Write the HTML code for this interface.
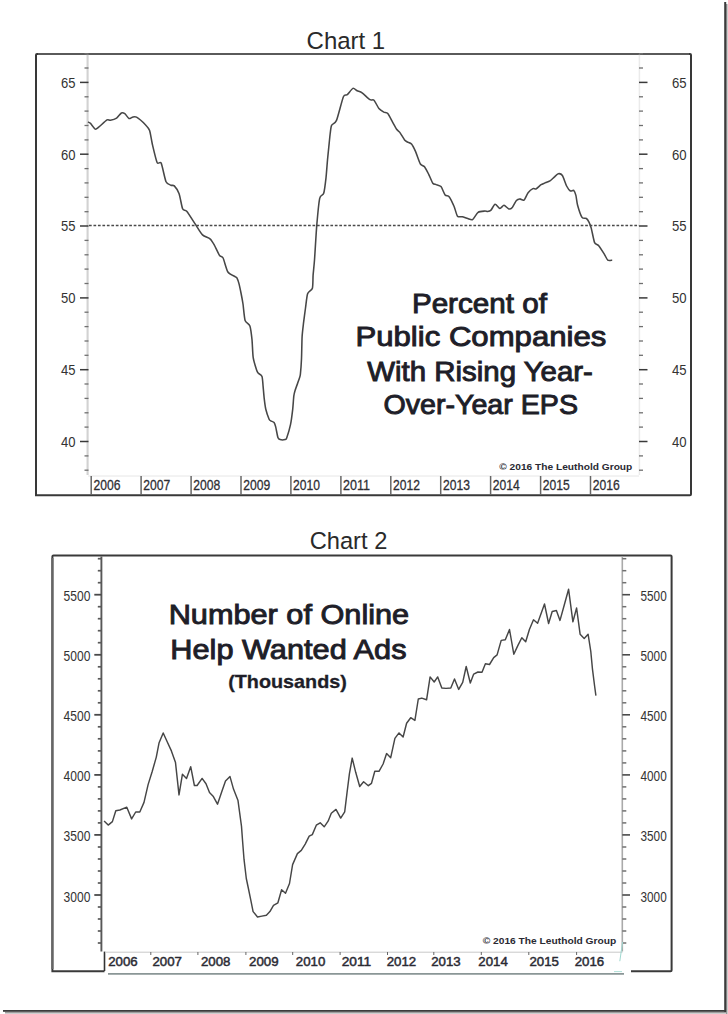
<!DOCTYPE html><html><head><meta charset="utf-8"><style>html,body{margin:0;padding:0;background:#fff;width:728px;height:1014px;overflow:hidden}svg{display:block}text{font-family:"Liberation Sans",sans-serif}</style></head><body>
<svg width="728" height="1014" viewBox="0 0 728 1014">
<defs><linearGradient id="gr" x1="0" y1="0" x2="1" y2="0"><stop offset="0" stop-color="#7a7a7a"/><stop offset="1" stop-color="#e8e8e8"/></linearGradient><linearGradient id="gb" x1="0" y1="0" x2="0" y2="1"><stop offset="0" stop-color="#7a7a7a"/><stop offset="1" stop-color="#e8e8e8"/></linearGradient></defs>
<rect x="726" y="4" width="2" height="1010" fill="url(#gr)"/>
<rect x="5" y="1011.8" width="721" height="2.2" fill="url(#gb)"/>
<rect x="724.2" y="2" width="2" height="1010" fill="#3c3c3c"/>
<rect x="3" y="1010" width="723" height="1.8" fill="#3c3c3c"/>
<text x="306.6" y="48.9" font-size="24.5" fill="#2a2a2a" textLength="78.6" lengthAdjust="spacingAndGlyphs">Chart 1</text>
<path d="M36 495.3 L36 55 Q36 54 37 54 L690 54 Q691 54 691 55 L691 494.3 Q691 495.3 690 495.3 Z" fill="none" stroke="#383838" stroke-width="2"/>
<line x1="38" y1="54" x2="689" y2="54" stroke="#5a5a5a" stroke-width="2.2"/>
<line x1="87.6" y1="54.7" x2="87.6" y2="475" stroke="#d2d2d2" stroke-width="2.1"/>
<line x1="639.4" y1="54.7" x2="639.4" y2="475" stroke="#ebebeb" stroke-width="1.5"/>
<line x1="84.5" y1="470.2" x2="88.5" y2="470.2" stroke="#707070" stroke-width="1.3"/>
<line x1="639" y1="470.2" x2="643" y2="470.2" stroke="#707070" stroke-width="1.3"/>
<line x1="84.5" y1="455.9" x2="88.5" y2="455.9" stroke="#707070" stroke-width="1.3"/>
<line x1="639" y1="455.9" x2="643" y2="455.9" stroke="#707070" stroke-width="1.3"/>
<line x1="80" y1="441.5" x2="88.5" y2="441.5" stroke="#3a3a3a" stroke-width="1.5"/>
<line x1="639" y1="441.5" x2="647.5" y2="441.5" stroke="#3a3a3a" stroke-width="1.5"/>
<text x="75.6" y="446.8" font-size="15.5" fill="#333" text-anchor="end" textLength="14.5" lengthAdjust="spacingAndGlyphs">40</text>
<text x="672" y="446.8" font-size="15.5" fill="#333" textLength="14.6" lengthAdjust="spacingAndGlyphs">40</text>
<line x1="84.5" y1="427.1" x2="88.5" y2="427.1" stroke="#707070" stroke-width="1.3"/>
<line x1="639" y1="427.1" x2="643" y2="427.1" stroke="#707070" stroke-width="1.3"/>
<line x1="84.5" y1="412.8" x2="88.5" y2="412.8" stroke="#707070" stroke-width="1.3"/>
<line x1="639" y1="412.8" x2="643" y2="412.8" stroke="#707070" stroke-width="1.3"/>
<line x1="84.5" y1="398.4" x2="88.5" y2="398.4" stroke="#707070" stroke-width="1.3"/>
<line x1="639" y1="398.4" x2="643" y2="398.4" stroke="#707070" stroke-width="1.3"/>
<line x1="84.5" y1="384.0" x2="88.5" y2="384.0" stroke="#707070" stroke-width="1.3"/>
<line x1="639" y1="384.0" x2="643" y2="384.0" stroke="#707070" stroke-width="1.3"/>
<line x1="80" y1="369.7" x2="88.5" y2="369.7" stroke="#3a3a3a" stroke-width="1.5"/>
<line x1="639" y1="369.7" x2="647.5" y2="369.7" stroke="#3a3a3a" stroke-width="1.5"/>
<text x="75.6" y="375.0" font-size="15.5" fill="#333" text-anchor="end" textLength="14.5" lengthAdjust="spacingAndGlyphs">45</text>
<text x="672" y="375.0" font-size="15.5" fill="#333" textLength="14.6" lengthAdjust="spacingAndGlyphs">45</text>
<line x1="84.5" y1="355.3" x2="88.5" y2="355.3" stroke="#707070" stroke-width="1.3"/>
<line x1="639" y1="355.3" x2="643" y2="355.3" stroke="#707070" stroke-width="1.3"/>
<line x1="84.5" y1="341.0" x2="88.5" y2="341.0" stroke="#707070" stroke-width="1.3"/>
<line x1="639" y1="341.0" x2="643" y2="341.0" stroke="#707070" stroke-width="1.3"/>
<line x1="84.5" y1="326.6" x2="88.5" y2="326.6" stroke="#707070" stroke-width="1.3"/>
<line x1="639" y1="326.6" x2="643" y2="326.6" stroke="#707070" stroke-width="1.3"/>
<line x1="84.5" y1="312.2" x2="88.5" y2="312.2" stroke="#707070" stroke-width="1.3"/>
<line x1="639" y1="312.2" x2="643" y2="312.2" stroke="#707070" stroke-width="1.3"/>
<line x1="80" y1="297.9" x2="88.5" y2="297.9" stroke="#3a3a3a" stroke-width="1.5"/>
<line x1="639" y1="297.9" x2="647.5" y2="297.9" stroke="#3a3a3a" stroke-width="1.5"/>
<text x="75.6" y="303.2" font-size="15.5" fill="#333" text-anchor="end" textLength="14.5" lengthAdjust="spacingAndGlyphs">50</text>
<text x="672" y="303.2" font-size="15.5" fill="#333" textLength="14.6" lengthAdjust="spacingAndGlyphs">50</text>
<line x1="84.5" y1="283.5" x2="88.5" y2="283.5" stroke="#707070" stroke-width="1.3"/>
<line x1="639" y1="283.5" x2="643" y2="283.5" stroke="#707070" stroke-width="1.3"/>
<line x1="84.5" y1="269.1" x2="88.5" y2="269.1" stroke="#707070" stroke-width="1.3"/>
<line x1="639" y1="269.1" x2="643" y2="269.1" stroke="#707070" stroke-width="1.3"/>
<line x1="84.5" y1="254.8" x2="88.5" y2="254.8" stroke="#707070" stroke-width="1.3"/>
<line x1="639" y1="254.8" x2="643" y2="254.8" stroke="#707070" stroke-width="1.3"/>
<line x1="84.5" y1="240.4" x2="88.5" y2="240.4" stroke="#707070" stroke-width="1.3"/>
<line x1="639" y1="240.4" x2="643" y2="240.4" stroke="#707070" stroke-width="1.3"/>
<line x1="80" y1="226.0" x2="88.5" y2="226.0" stroke="#3a3a3a" stroke-width="1.5"/>
<line x1="639" y1="226.0" x2="647.5" y2="226.0" stroke="#3a3a3a" stroke-width="1.5"/>
<text x="75.6" y="231.3" font-size="15.5" fill="#333" text-anchor="end" textLength="14.5" lengthAdjust="spacingAndGlyphs">55</text>
<text x="672" y="231.3" font-size="15.5" fill="#333" textLength="14.6" lengthAdjust="spacingAndGlyphs">55</text>
<line x1="84.5" y1="211.7" x2="88.5" y2="211.7" stroke="#707070" stroke-width="1.3"/>
<line x1="639" y1="211.7" x2="643" y2="211.7" stroke="#707070" stroke-width="1.3"/>
<line x1="84.5" y1="197.3" x2="88.5" y2="197.3" stroke="#707070" stroke-width="1.3"/>
<line x1="639" y1="197.3" x2="643" y2="197.3" stroke="#707070" stroke-width="1.3"/>
<line x1="84.5" y1="182.9" x2="88.5" y2="182.9" stroke="#707070" stroke-width="1.3"/>
<line x1="639" y1="182.9" x2="643" y2="182.9" stroke="#707070" stroke-width="1.3"/>
<line x1="84.5" y1="168.6" x2="88.5" y2="168.6" stroke="#707070" stroke-width="1.3"/>
<line x1="639" y1="168.6" x2="643" y2="168.6" stroke="#707070" stroke-width="1.3"/>
<line x1="80" y1="154.2" x2="88.5" y2="154.2" stroke="#3a3a3a" stroke-width="1.5"/>
<line x1="639" y1="154.2" x2="647.5" y2="154.2" stroke="#3a3a3a" stroke-width="1.5"/>
<text x="75.6" y="159.5" font-size="15.5" fill="#333" text-anchor="end" textLength="14.5" lengthAdjust="spacingAndGlyphs">60</text>
<text x="672" y="159.5" font-size="15.5" fill="#333" textLength="14.6" lengthAdjust="spacingAndGlyphs">60</text>
<line x1="84.5" y1="139.9" x2="88.5" y2="139.9" stroke="#707070" stroke-width="1.3"/>
<line x1="639" y1="139.9" x2="643" y2="139.9" stroke="#707070" stroke-width="1.3"/>
<line x1="84.5" y1="125.5" x2="88.5" y2="125.5" stroke="#707070" stroke-width="1.3"/>
<line x1="639" y1="125.5" x2="643" y2="125.5" stroke="#707070" stroke-width="1.3"/>
<line x1="84.5" y1="111.1" x2="88.5" y2="111.1" stroke="#707070" stroke-width="1.3"/>
<line x1="639" y1="111.1" x2="643" y2="111.1" stroke="#707070" stroke-width="1.3"/>
<line x1="84.5" y1="96.8" x2="88.5" y2="96.8" stroke="#707070" stroke-width="1.3"/>
<line x1="639" y1="96.8" x2="643" y2="96.8" stroke="#707070" stroke-width="1.3"/>
<line x1="80" y1="82.4" x2="88.5" y2="82.4" stroke="#3a3a3a" stroke-width="1.5"/>
<line x1="639" y1="82.4" x2="647.5" y2="82.4" stroke="#3a3a3a" stroke-width="1.5"/>
<text x="75.6" y="87.7" font-size="15.5" fill="#333" text-anchor="end" textLength="14.5" lengthAdjust="spacingAndGlyphs">65</text>
<text x="672" y="87.7" font-size="15.5" fill="#333" textLength="14.6" lengthAdjust="spacingAndGlyphs">65</text>
<line x1="84.5" y1="68.0" x2="88.5" y2="68.0" stroke="#707070" stroke-width="1.3"/>
<line x1="639" y1="68.0" x2="643" y2="68.0" stroke="#707070" stroke-width="1.3"/>
<line x1="84.5" y1="53.7" x2="88.5" y2="53.7" stroke="#707070" stroke-width="1.3"/>
<line x1="639" y1="53.7" x2="643" y2="53.7" stroke="#707070" stroke-width="1.3"/>
<line x1="88" y1="476" x2="639" y2="476" stroke="#e6e6e6" stroke-width="1"/>
<line x1="91.2" y1="476" x2="91.2" y2="495" stroke="#666" stroke-width="1.5"/>
<text x="93.4" y="490" font-size="15" fill="#2e2e33" stroke="#2e2e33" stroke-width="0.3" textLength="27" lengthAdjust="spacingAndGlyphs">2006</text>
<line x1="141.1" y1="476" x2="141.1" y2="495" stroke="#666" stroke-width="1.5"/>
<text x="143.3" y="490" font-size="15" fill="#2e2e33" stroke="#2e2e33" stroke-width="0.3" textLength="27" lengthAdjust="spacingAndGlyphs">2007</text>
<line x1="191.1" y1="476" x2="191.1" y2="495" stroke="#666" stroke-width="1.5"/>
<text x="193.3" y="490" font-size="15" fill="#2e2e33" stroke="#2e2e33" stroke-width="0.3" textLength="27" lengthAdjust="spacingAndGlyphs">2008</text>
<line x1="241.0" y1="476" x2="241.0" y2="495" stroke="#666" stroke-width="1.5"/>
<text x="243.2" y="490" font-size="15" fill="#2e2e33" stroke="#2e2e33" stroke-width="0.3" textLength="27" lengthAdjust="spacingAndGlyphs">2009</text>
<line x1="290.9" y1="476" x2="290.9" y2="495" stroke="#666" stroke-width="1.5"/>
<text x="293.1" y="490" font-size="15" fill="#2e2e33" stroke="#2e2e33" stroke-width="0.3" textLength="27" lengthAdjust="spacingAndGlyphs">2010</text>
<line x1="340.9" y1="476" x2="340.9" y2="495" stroke="#666" stroke-width="1.5"/>
<text x="343.1" y="490" font-size="15" fill="#2e2e33" stroke="#2e2e33" stroke-width="0.3" textLength="27" lengthAdjust="spacingAndGlyphs">2011</text>
<line x1="390.8" y1="476" x2="390.8" y2="495" stroke="#666" stroke-width="1.5"/>
<text x="393.0" y="490" font-size="15" fill="#2e2e33" stroke="#2e2e33" stroke-width="0.3" textLength="27" lengthAdjust="spacingAndGlyphs">2012</text>
<line x1="440.7" y1="476" x2="440.7" y2="495" stroke="#666" stroke-width="1.5"/>
<text x="442.9" y="490" font-size="15" fill="#2e2e33" stroke="#2e2e33" stroke-width="0.3" textLength="27" lengthAdjust="spacingAndGlyphs">2013</text>
<line x1="490.6" y1="476" x2="490.6" y2="495" stroke="#666" stroke-width="1.5"/>
<text x="492.8" y="490" font-size="15" fill="#2e2e33" stroke="#2e2e33" stroke-width="0.3" textLength="27" lengthAdjust="spacingAndGlyphs">2014</text>
<line x1="540.6" y1="476" x2="540.6" y2="495" stroke="#666" stroke-width="1.5"/>
<text x="542.8" y="490" font-size="15" fill="#2e2e33" stroke="#2e2e33" stroke-width="0.3" textLength="27" lengthAdjust="spacingAndGlyphs">2015</text>
<line x1="590.5" y1="476" x2="590.5" y2="495" stroke="#666" stroke-width="1.5"/>
<text x="592.7" y="490" font-size="15" fill="#2e2e33" stroke="#2e2e33" stroke-width="0.3" textLength="27" lengthAdjust="spacingAndGlyphs">2016</text>
<line x1="89" y1="225.6" x2="639" y2="225.6" stroke="#4a4a4a" stroke-width="1.5" stroke-dasharray="2.7 1.77"/>
<path d="M88.0 122.0 C88.29 122.16 89.65 122.57 90.5 123.4 C91.35 124.23 94.34 128.66 95.3 129.1 C96.26 129.54 97.34 128.27 98.7 127.2 C100.06 126.13 105.64 120.71 107.0 119.9 C108.36 119.09 109.28 120.51 110.4 120.3 C111.52 120.09 115.32 118.95 116.6 118.1 C117.88 117.25 120.44 113.51 121.4 113.0 C122.36 112.49 123.91 113.06 124.8 113.7 C125.69 114.34 128.11 118.09 129.0 118.5 C129.89 118.91 131.53 117.35 132.4 117.2 C133.28 117.05 134.98 116.33 136.5 117.2 C138.02 118.08 143.87 123.15 145.4 124.7 C146.93 126.25 148.79 128.25 149.6 130.5 C150.41 132.75 151.43 140.27 152.3 144.0 C153.18 147.73 156.06 160.26 157.1 162.5 C158.14 164.74 160.16 160.96 161.2 163.2 C162.24 165.44 164.87 179.13 166.0 181.7 C167.13 184.27 169.93 184.71 170.9 185.2 C171.87 185.69 173.34 184.91 174.3 185.9 C175.26 186.89 178.13 191.03 179.1 193.7 C180.07 196.37 181.71 206.75 182.6 208.8 C183.49 210.85 185.18 209.46 186.7 211.3 C188.22 213.14 193.76 221.85 195.6 224.6 C197.44 227.35 200.82 233.24 202.5 234.9 C204.18 236.56 208.65 237.67 210.0 238.8 C211.35 239.93 212.98 242.65 214.1 244.6 C215.22 246.55 218.55 253.94 219.6 255.5 C220.65 257.06 222.13 256.07 223.1 258.0 C224.07 259.93 226.47 269.81 227.9 272.0 C229.34 274.19 234.35 276.11 235.4 276.8 C236.45 277.49 236.49 277.13 236.9 277.9 C237.31 278.67 238.42 281.64 238.9 283.4 C239.38 285.16 240.52 290.60 241.0 293.0 C241.48 295.40 242.52 300.80 243.0 304.0 C243.48 307.20 244.29 317.84 245.1 320.4 C245.91 322.95 249.09 323.65 249.9 325.9 C250.71 328.15 251.62 335.99 252.0 339.7 C252.38 343.41 252.67 354.19 253.2 357.7 C253.72 361.21 255.93 368.00 256.5 369.8 C257.07 371.60 257.46 372.33 258.1 373.1 C258.74 373.87 261.42 374.86 262.0 376.4 C262.58 377.94 262.84 383.73 263.1 386.3 C263.36 388.87 263.88 395.72 264.2 398.4 C264.51 401.08 265.23 406.87 265.8 409.3 C266.37 411.73 268.52 417.85 269.1 419.2 C269.68 420.55 270.22 420.51 270.8 420.9 C271.38 421.28 273.53 421.80 274.1 422.5 C274.67 423.20 275.26 425.16 275.7 426.9 C276.14 428.64 277.39 435.92 277.9 437.4 C278.41 438.88 279.26 439.34 280.1 439.6 C280.94 439.86 284.33 439.80 285.1 439.6 C285.87 439.40 286.07 439.64 286.7 437.9 C287.33 436.16 289.80 428.04 290.5 424.7 C291.20 421.36 292.31 412.62 292.7 409.3 C293.08 405.98 293.53 398.37 293.8 396.2 C294.07 394.03 294.36 392.75 295.0 390.7 C295.64 388.65 298.67 380.53 299.3 378.6 C299.93 376.68 300.14 376.51 300.4 374.2 C300.66 371.89 301.30 363.15 301.5 358.8 C301.70 354.45 301.87 341.05 302.1 336.9 C302.33 332.75 303.10 326.57 303.5 323.2 C303.90 319.83 305.02 311.44 305.5 308.0 C305.98 304.56 306.80 296.01 307.6 293.7 C308.41 291.39 311.76 290.37 312.4 288.2 C313.04 286.03 312.86 278.39 313.1 275.1 C313.35 271.81 314.07 265.86 314.5 260.0 C314.93 254.14 316.19 232.10 316.8 224.9 C317.41 217.70 318.89 201.99 319.7 198.3 C320.50 194.61 322.96 195.69 323.7 193.3 C324.44 190.91 325.56 181.69 326.0 177.8 C326.44 173.92 327.17 163.59 327.5 160.0 C327.83 156.41 328.49 150.09 328.8 147.0 C329.12 143.91 329.87 136.03 330.2 133.5 C330.53 130.97 330.87 126.83 331.6 125.3 C332.34 123.77 335.12 123.74 336.5 120.4 C337.88 117.06 342.14 99.70 343.4 96.7 C344.66 93.70 346.19 95.67 347.3 94.7 C348.41 93.73 351.75 88.86 352.9 88.4 C354.05 87.95 356.13 90.29 357.2 90.8 C358.27 91.31 360.61 91.76 362.1 92.8 C363.59 93.84 368.61 98.84 370.0 99.7 C371.39 100.56 372.96 99.17 374.0 100.2 C375.04 101.23 377.76 107.11 378.9 108.5 C380.04 109.89 382.76 111.52 383.8 112.1 C384.84 112.68 386.76 112.31 387.8 113.5 C388.84 114.69 391.67 120.47 392.7 122.3 C393.73 124.13 395.77 128.02 396.6 129.2 C397.43 130.38 398.87 131.15 399.8 132.4 C400.73 133.65 403.71 138.78 404.6 139.9 C405.49 141.02 406.59 141.52 407.4 142.0 C408.20 142.48 410.54 142.88 411.5 144.0 C412.46 145.12 414.56 149.27 415.6 151.6 C416.64 153.93 419.36 162.24 420.4 164.0 C421.44 165.76 423.53 165.50 424.5 166.7 C425.47 167.90 427.73 172.38 428.7 174.3 C429.67 176.23 431.93 182.00 432.8 183.2 C433.68 184.40 435.24 184.20 436.2 184.6 C437.16 185.00 439.96 185.40 441.0 186.6 C442.04 187.80 444.13 193.70 445.1 194.9 C446.07 196.10 448.25 195.55 449.3 196.9 C450.35 198.25 453.14 204.25 454.1 206.5 C455.06 208.75 456.54 215.00 457.5 216.2 C458.46 217.40 461.10 216.52 462.3 216.8 C463.50 217.08 466.60 218.27 467.8 218.6 C469.00 218.93 471.40 220.33 472.6 219.6 C473.80 218.87 476.68 213.29 478.1 212.3 C479.52 211.31 483.69 211.19 484.8 211.1 C485.91 211.01 486.88 211.62 487.6 211.5 C488.32 211.38 490.12 210.95 491.0 210.1 C491.88 209.25 494.06 204.40 495.1 204.2 C496.14 204.00 498.86 208.27 499.9 208.4 C500.94 208.53 502.96 205.23 504.0 205.3 C505.04 205.37 507.83 208.75 508.8 209.0 C509.77 209.25 511.41 208.39 512.3 207.4 C513.19 206.41 515.52 201.49 516.4 200.5 C517.27 199.51 518.91 198.95 519.8 198.9 C520.69 198.85 523.03 200.82 524.0 200.1 C524.97 199.38 527.06 194.04 528.1 192.7 C529.14 191.36 531.94 189.05 532.9 188.6 C533.86 188.15 535.34 189.26 536.3 188.8 C537.26 188.34 540.13 185.36 541.1 184.7 C542.07 184.03 543.56 183.54 544.6 183.1 C545.64 182.66 548.88 181.59 550.0 180.9 C551.12 180.21 553.23 178.04 554.2 177.2 C555.17 176.36 557.34 173.90 558.3 173.7 C559.26 173.50 561.43 174.06 562.4 175.5 C563.37 176.94 565.67 184.19 566.6 186.0 C567.53 187.81 569.57 190.49 570.4 191.0 C571.23 191.51 573.06 189.89 573.7 190.4 C574.34 190.91 575.44 193.66 575.9 195.4 C576.36 197.14 576.89 202.73 577.6 205.3 C578.31 207.87 580.97 215.86 582.0 217.4 C583.03 218.94 585.57 217.93 586.4 218.5 C587.23 219.07 588.53 221.15 589.1 222.3 C589.67 223.46 590.66 226.03 591.3 228.4 C591.94 230.77 593.76 240.62 594.6 242.6 C595.44 244.58 597.40 244.12 598.5 245.4 C599.60 246.68 602.91 251.87 604.0 253.6 C605.09 255.33 606.84 259.43 607.8 260.2 C608.76 260.97 611.69 260.20 612.2 260.2" fill="none" stroke="#474747" stroke-width="1.55" stroke-linejoin="round"/>
<text x="411.9" y="312.9" font-weight="normal" fill="#1e1e28" stroke="#1e1e28" stroke-width="0.95" font-size="28" textLength="135" lengthAdjust="spacingAndGlyphs">Percent of</text>
<text x="355.5" y="346.3" font-weight="normal" fill="#1e1e28" stroke="#1e1e28" stroke-width="0.95" font-size="28" textLength="250.8" lengthAdjust="spacingAndGlyphs">Public Companies</text>
<text x="367.3" y="380.9" font-weight="normal" fill="#1e1e28" stroke="#1e1e28" stroke-width="0.95" font-size="28" textLength="225.6" lengthAdjust="spacingAndGlyphs">With Rising Year-</text>
<text x="383.4" y="413.7" font-weight="normal" fill="#1e1e28" stroke="#1e1e28" stroke-width="0.95" font-size="28" textLength="194.6" lengthAdjust="spacingAndGlyphs">Over-Year EPS</text>
<text x="499.3" y="470" font-size="9.6" font-weight="bold" fill="#2a2a33" textLength="133" lengthAdjust="spacingAndGlyphs">© 2016 The Leuthold Group</text>
<text x="309.7" y="548.6" font-size="24.5" fill="#2a2a2a" textLength="77.6" lengthAdjust="spacingAndGlyphs">Chart 2</text>
<path d="M104.5 971.2 L52.4 971.2 L52.4 556.5 Q52.4 555.4 53.5 555.4 L670.5 555.4 Q671.6 555.4 671.6 556.5 L671.6 970.2 Q671.6 971.2 670.6 971.2 L631 971.2" fill="none" stroke="#3a3a3a" stroke-width="2"/>
<line x1="52.4" y1="558" x2="52.4" y2="969" stroke="#666" stroke-width="2.1"/>
<line x1="101.4" y1="556.5" x2="101.4" y2="951.6" stroke="#585858" stroke-width="1.9"/>
<line x1="622.3" y1="556.5" x2="622.3" y2="951.6" stroke="#aaa" stroke-width="1.6"/>
<line x1="97.8" y1="943.0" x2="101.4" y2="943.0" stroke="#5a5a5a" stroke-width="1.7"/>
<line x1="622.3" y1="943.0" x2="626.3" y2="943.0" stroke="#707070" stroke-width="1.5"/>
<line x1="97.8" y1="931.0" x2="101.4" y2="931.0" stroke="#5a5a5a" stroke-width="1.7"/>
<line x1="622.3" y1="931.0" x2="626.3" y2="931.0" stroke="#707070" stroke-width="1.5"/>
<line x1="97.8" y1="919.0" x2="101.4" y2="919.0" stroke="#5a5a5a" stroke-width="1.7"/>
<line x1="622.3" y1="919.0" x2="626.3" y2="919.0" stroke="#707070" stroke-width="1.5"/>
<line x1="97.8" y1="907.0" x2="101.4" y2="907.0" stroke="#5a5a5a" stroke-width="1.7"/>
<line x1="622.3" y1="907.0" x2="626.3" y2="907.0" stroke="#707070" stroke-width="1.5"/>
<line x1="94.3" y1="895.0" x2="101.4" y2="895.0" stroke="#4a4a4a" stroke-width="1.8"/>
<line x1="622.3" y1="895.0" x2="630" y2="895.0" stroke="#4a4a4a" stroke-width="1.6"/>
<text x="90.4" y="901.5" font-size="15.5" fill="#333" text-anchor="end" textLength="26.8" lengthAdjust="spacingAndGlyphs">3000</text>
<text x="640.5" y="901.5" font-size="15.5" fill="#333" textLength="26.2" lengthAdjust="spacingAndGlyphs">3000</text>
<line x1="97.8" y1="883.0" x2="101.4" y2="883.0" stroke="#5a5a5a" stroke-width="1.7"/>
<line x1="622.3" y1="883.0" x2="626.3" y2="883.0" stroke="#707070" stroke-width="1.5"/>
<line x1="97.8" y1="871.0" x2="101.4" y2="871.0" stroke="#5a5a5a" stroke-width="1.7"/>
<line x1="622.3" y1="871.0" x2="626.3" y2="871.0" stroke="#707070" stroke-width="1.5"/>
<line x1="97.8" y1="859.0" x2="101.4" y2="859.0" stroke="#5a5a5a" stroke-width="1.7"/>
<line x1="622.3" y1="859.0" x2="626.3" y2="859.0" stroke="#707070" stroke-width="1.5"/>
<line x1="97.8" y1="847.0" x2="101.4" y2="847.0" stroke="#5a5a5a" stroke-width="1.7"/>
<line x1="622.3" y1="847.0" x2="626.3" y2="847.0" stroke="#707070" stroke-width="1.5"/>
<line x1="94.3" y1="834.9" x2="101.4" y2="834.9" stroke="#4a4a4a" stroke-width="1.8"/>
<line x1="622.3" y1="834.9" x2="630" y2="834.9" stroke="#4a4a4a" stroke-width="1.6"/>
<text x="90.4" y="841.4" font-size="15.5" fill="#333" text-anchor="end" textLength="26.8" lengthAdjust="spacingAndGlyphs">3500</text>
<text x="640.5" y="841.4" font-size="15.5" fill="#333" textLength="26.2" lengthAdjust="spacingAndGlyphs">3500</text>
<line x1="97.8" y1="822.9" x2="101.4" y2="822.9" stroke="#5a5a5a" stroke-width="1.7"/>
<line x1="622.3" y1="822.9" x2="626.3" y2="822.9" stroke="#707070" stroke-width="1.5"/>
<line x1="97.8" y1="810.9" x2="101.4" y2="810.9" stroke="#5a5a5a" stroke-width="1.7"/>
<line x1="622.3" y1="810.9" x2="626.3" y2="810.9" stroke="#707070" stroke-width="1.5"/>
<line x1="97.8" y1="798.9" x2="101.4" y2="798.9" stroke="#5a5a5a" stroke-width="1.7"/>
<line x1="622.3" y1="798.9" x2="626.3" y2="798.9" stroke="#707070" stroke-width="1.5"/>
<line x1="97.8" y1="786.9" x2="101.4" y2="786.9" stroke="#5a5a5a" stroke-width="1.7"/>
<line x1="622.3" y1="786.9" x2="626.3" y2="786.9" stroke="#707070" stroke-width="1.5"/>
<line x1="94.3" y1="774.9" x2="101.4" y2="774.9" stroke="#4a4a4a" stroke-width="1.8"/>
<line x1="622.3" y1="774.9" x2="630" y2="774.9" stroke="#4a4a4a" stroke-width="1.6"/>
<text x="90.4" y="781.4" font-size="15.5" fill="#333" text-anchor="end" textLength="26.8" lengthAdjust="spacingAndGlyphs">4000</text>
<text x="640.5" y="781.4" font-size="15.5" fill="#333" textLength="26.2" lengthAdjust="spacingAndGlyphs">4000</text>
<line x1="97.8" y1="762.9" x2="101.4" y2="762.9" stroke="#5a5a5a" stroke-width="1.7"/>
<line x1="622.3" y1="762.9" x2="626.3" y2="762.9" stroke="#707070" stroke-width="1.5"/>
<line x1="97.8" y1="750.9" x2="101.4" y2="750.9" stroke="#5a5a5a" stroke-width="1.7"/>
<line x1="622.3" y1="750.9" x2="626.3" y2="750.9" stroke="#707070" stroke-width="1.5"/>
<line x1="97.8" y1="738.8" x2="101.4" y2="738.8" stroke="#5a5a5a" stroke-width="1.7"/>
<line x1="622.3" y1="738.8" x2="626.3" y2="738.8" stroke="#707070" stroke-width="1.5"/>
<line x1="97.8" y1="726.8" x2="101.4" y2="726.8" stroke="#5a5a5a" stroke-width="1.7"/>
<line x1="622.3" y1="726.8" x2="626.3" y2="726.8" stroke="#707070" stroke-width="1.5"/>
<line x1="94.3" y1="714.8" x2="101.4" y2="714.8" stroke="#4a4a4a" stroke-width="1.8"/>
<line x1="622.3" y1="714.8" x2="630" y2="714.8" stroke="#4a4a4a" stroke-width="1.6"/>
<text x="90.4" y="721.3" font-size="15.5" fill="#333" text-anchor="end" textLength="26.8" lengthAdjust="spacingAndGlyphs">4500</text>
<text x="640.5" y="721.3" font-size="15.5" fill="#333" textLength="26.2" lengthAdjust="spacingAndGlyphs">4500</text>
<line x1="97.8" y1="702.8" x2="101.4" y2="702.8" stroke="#5a5a5a" stroke-width="1.7"/>
<line x1="622.3" y1="702.8" x2="626.3" y2="702.8" stroke="#707070" stroke-width="1.5"/>
<line x1="97.8" y1="690.8" x2="101.4" y2="690.8" stroke="#5a5a5a" stroke-width="1.7"/>
<line x1="622.3" y1="690.8" x2="626.3" y2="690.8" stroke="#707070" stroke-width="1.5"/>
<line x1="97.8" y1="678.8" x2="101.4" y2="678.8" stroke="#5a5a5a" stroke-width="1.7"/>
<line x1="622.3" y1="678.8" x2="626.3" y2="678.8" stroke="#707070" stroke-width="1.5"/>
<line x1="97.8" y1="666.8" x2="101.4" y2="666.8" stroke="#5a5a5a" stroke-width="1.7"/>
<line x1="622.3" y1="666.8" x2="626.3" y2="666.8" stroke="#707070" stroke-width="1.5"/>
<line x1="94.3" y1="654.8" x2="101.4" y2="654.8" stroke="#4a4a4a" stroke-width="1.8"/>
<line x1="622.3" y1="654.8" x2="630" y2="654.8" stroke="#4a4a4a" stroke-width="1.6"/>
<text x="90.4" y="661.3" font-size="15.5" fill="#333" text-anchor="end" textLength="26.8" lengthAdjust="spacingAndGlyphs">5000</text>
<text x="640.5" y="661.3" font-size="15.5" fill="#333" textLength="26.2" lengthAdjust="spacingAndGlyphs">5000</text>
<line x1="97.8" y1="642.7" x2="101.4" y2="642.7" stroke="#5a5a5a" stroke-width="1.7"/>
<line x1="622.3" y1="642.7" x2="626.3" y2="642.7" stroke="#707070" stroke-width="1.5"/>
<line x1="97.8" y1="630.7" x2="101.4" y2="630.7" stroke="#5a5a5a" stroke-width="1.7"/>
<line x1="622.3" y1="630.7" x2="626.3" y2="630.7" stroke="#707070" stroke-width="1.5"/>
<line x1="97.8" y1="618.7" x2="101.4" y2="618.7" stroke="#5a5a5a" stroke-width="1.7"/>
<line x1="622.3" y1="618.7" x2="626.3" y2="618.7" stroke="#707070" stroke-width="1.5"/>
<line x1="97.8" y1="606.7" x2="101.4" y2="606.7" stroke="#5a5a5a" stroke-width="1.7"/>
<line x1="622.3" y1="606.7" x2="626.3" y2="606.7" stroke="#707070" stroke-width="1.5"/>
<line x1="94.3" y1="594.7" x2="101.4" y2="594.7" stroke="#4a4a4a" stroke-width="1.8"/>
<line x1="622.3" y1="594.7" x2="630" y2="594.7" stroke="#4a4a4a" stroke-width="1.6"/>
<text x="90.4" y="601.2" font-size="15.5" fill="#333" text-anchor="end" textLength="26.8" lengthAdjust="spacingAndGlyphs">5500</text>
<text x="640.5" y="601.2" font-size="15.5" fill="#333" textLength="26.2" lengthAdjust="spacingAndGlyphs">5500</text>
<line x1="97.8" y1="582.7" x2="101.4" y2="582.7" stroke="#5a5a5a" stroke-width="1.7"/>
<line x1="622.3" y1="582.7" x2="626.3" y2="582.7" stroke="#707070" stroke-width="1.5"/>
<line x1="97.8" y1="570.7" x2="101.4" y2="570.7" stroke="#5a5a5a" stroke-width="1.7"/>
<line x1="622.3" y1="570.7" x2="626.3" y2="570.7" stroke="#707070" stroke-width="1.5"/>
<line x1="97.8" y1="558.7" x2="101.4" y2="558.7" stroke="#5a5a5a" stroke-width="1.7"/>
<line x1="622.3" y1="558.7" x2="626.3" y2="558.7" stroke="#707070" stroke-width="1.5"/>
<line x1="104.5" y1="951.6" x2="104.5" y2="971" stroke="#333" stroke-width="1.6"/>
<line x1="105" y1="952.2" x2="622.5" y2="952.2" stroke="#c8c8c8" stroke-width="1"/>
<line x1="108" y1="973.9" x2="624" y2="973.9" stroke="#8a9696" stroke-width="1.8"/>
<line x1="622.6" y1="942" x2="619.8" y2="961.2" stroke="#9fd8d0" stroke-width="1"/>
<line x1="614" y1="971.6" x2="622" y2="971.6" stroke="#b0e0d8" stroke-width="1"/>
<line x1="150.8" y1="952" x2="150.8" y2="955" stroke="#666" stroke-width="1"/>
<line x1="197.9" y1="952" x2="197.9" y2="955" stroke="#666" stroke-width="1"/>
<line x1="245.9" y1="952" x2="245.9" y2="955" stroke="#666" stroke-width="1"/>
<line x1="292.7" y1="952" x2="292.7" y2="955" stroke="#666" stroke-width="1"/>
<line x1="340.1" y1="952" x2="340.1" y2="955" stroke="#666" stroke-width="1"/>
<line x1="387.5" y1="952" x2="387.5" y2="955" stroke="#666" stroke-width="1"/>
<line x1="433.8" y1="952" x2="433.8" y2="955" stroke="#666" stroke-width="1"/>
<line x1="481.3" y1="952" x2="481.3" y2="955" stroke="#666" stroke-width="1"/>
<line x1="528.8" y1="952" x2="528.8" y2="955" stroke="#666" stroke-width="1"/>
<line x1="576.6" y1="952" x2="576.6" y2="955" stroke="#666" stroke-width="1"/>
<text x="108.2" y="966" font-size="12.5" fill="#2a2a33" stroke="#2a2a33" stroke-width="0.45" textLength="29.5" lengthAdjust="spacingAndGlyphs">2006</text>
<text x="152.4" y="966" font-size="12.5" fill="#2a2a33" stroke="#2a2a33" stroke-width="0.45" textLength="29.5" lengthAdjust="spacingAndGlyphs">2007</text>
<text x="201.0" y="966" font-size="12.5" fill="#2a2a33" stroke="#2a2a33" stroke-width="0.45" textLength="29.5" lengthAdjust="spacingAndGlyphs">2008</text>
<text x="249.1" y="966" font-size="12.5" fill="#2a2a33" stroke="#2a2a33" stroke-width="0.45" textLength="29.5" lengthAdjust="spacingAndGlyphs">2009</text>
<text x="295.8" y="966" font-size="12.5" fill="#2a2a33" stroke="#2a2a33" stroke-width="0.45" textLength="29.5" lengthAdjust="spacingAndGlyphs">2010</text>
<text x="341.7" y="966" font-size="12.5" fill="#2a2a33" stroke="#2a2a33" stroke-width="0.45" textLength="29.5" lengthAdjust="spacingAndGlyphs">2011</text>
<text x="386.7" y="966" font-size="12.5" fill="#2a2a33" stroke="#2a2a33" stroke-width="0.45" textLength="29.5" lengthAdjust="spacingAndGlyphs">2012</text>
<text x="431.2" y="966" font-size="12.5" fill="#2a2a33" stroke="#2a2a33" stroke-width="0.45" textLength="29.5" lengthAdjust="spacingAndGlyphs">2013</text>
<text x="478.3" y="966" font-size="12.5" fill="#2a2a33" stroke="#2a2a33" stroke-width="0.45" textLength="29.5" lengthAdjust="spacingAndGlyphs">2014</text>
<text x="529.5" y="966" font-size="12.5" fill="#2a2a33" stroke="#2a2a33" stroke-width="0.45" textLength="29.5" lengthAdjust="spacingAndGlyphs">2015</text>
<text x="574.7" y="966" font-size="12.5" fill="#2a2a33" stroke="#2a2a33" stroke-width="0.45" textLength="29.5" lengthAdjust="spacingAndGlyphs">2016</text>
<path d="M104.1 821.0 L108.2 825.1 L112.4 821.6 L115.8 810.7 L119.9 810.0 L126.8 807.2 L131.6 818.9 L135.7 812.0 L139.8 812.0 L144.0 802.4 L148.1 784.6 L152.2 771.5 L156.3 757.1 L159.1 742.7 L163.2 733.0 L167.3 742.0 L171.4 750.9 L175.5 762.6 L179.0 794.9 L182.4 774.3 L186.5 778.4 L190.7 766.7 L194.4 785.5 L197.1 785.5 L202.1 778.4 L206.0 783.7 L209.5 792.6 L213.1 796.2 L217.5 804.2 L222.0 790.9 L225.5 781.1 L230.0 776.6 L233.5 789.1 L238.0 800.6 L241.5 826.4 L242.5 840.0 L244.0 859.2 L246.3 878.5 L248.3 888.0 L250.7 899.6 L253.1 911.6 L257.5 917.0 L261.9 916.1 L266.4 915.2 L269.9 911.6 L273.5 905.4 L277.9 902.8 L281.6 889.8 L285.5 893.3 L289.5 883.5 L292.6 864.6 L297.4 853.6 L301.3 850.4 L305.2 844.1 L309.2 836.2 L312.3 834.6 L316.3 825.2 L320.2 822.8 L324.2 826.8 L328.1 821.2 L331.3 813.3 L336.0 809.4 L340.7 818.1 L344.7 811.8 L347.0 792.8 L349.4 773.9 L352.2 758.1 L355.7 772.3 L359.7 786.5 L363.6 781.8 L368.3 785.7 L371.5 783.3 L374.8 771.3 L379.0 771.3 L383.1 764.0 L386.6 753.6 L390.7 757.7 L394.9 738.4 L399.0 732.9 L403.1 737.0 L406.6 723.2 L410.7 717.7 L414.9 720.4 L418.3 699.0 L421.8 698.1 L426.6 699.7 L430.1 676.9 L434.2 682.0 L437.7 676.9 L441.8 688.0 L446.0 688.4 L450.8 688.0 L454.5 679.0 L458.7 689.4 L462.7 682.3 L466.2 666.5 L470.3 683.0 L473.7 674.1 L477.9 672.0 L482.0 672.3 L485.4 663.8 L489.5 664.5 L493.7 657.6 L497.1 654.9 L501.2 640.4 L505.3 639.8 L509.5 629.5 L513.8 654.2 L517.7 645.9 L521.8 637.7 L525.7 641.8 L529.4 629.5 L533.5 619.8 L537.6 623.3 L544.5 604.0 L548.6 623.5 L552.2 611.5 L556.4 610.5 L560.0 620.4 L564.2 605.2 L568.6 589.3 L572.9 621.8 L576.6 608.0 L580.1 634.2 L584.2 638.4 L588.1 634.2 L590.8 651.5 L592.5 669.4 L594.6 686.0 L595.9 695.7" fill="none" stroke="#464646" stroke-width="1.45" stroke-linejoin="round"/>
<text x="168.7" y="623.8" font-weight="normal" fill="#1e1e28" stroke="#1e1e28" stroke-width="0.95" font-size="28" textLength="240.5" lengthAdjust="spacingAndGlyphs">Number of Online</text>
<text x="170.3" y="658.5" font-weight="normal" fill="#1e1e28" stroke="#1e1e28" stroke-width="0.95" font-size="28" textLength="236.2" lengthAdjust="spacingAndGlyphs">Help Wanted Ads</text>
<text x="228.2" y="687.8" font-weight="bold" fill="#1e1e28" font-size="18.5" stroke="#1e1e28" stroke-width="0.3" textLength="118.6" lengthAdjust="spacingAndGlyphs">(Thousands)</text>
<text x="482.7" y="944.3" font-size="9.6" font-weight="bold" fill="#2a2a33" textLength="133.5" lengthAdjust="spacingAndGlyphs">© 2016 The Leuthold Group</text>
</svg></body></html>
